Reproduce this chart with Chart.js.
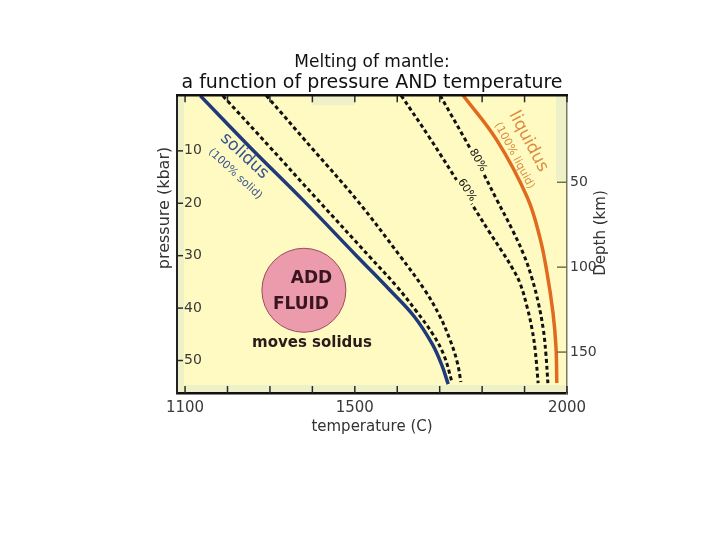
<!DOCTYPE html>
<html>
<head>
<meta charset="utf-8">
<title>Melting of mantle</title>
<script src="https://cdn.jsdelivr.net/npm/chart.js@4.4.1/dist/chart.umd.min.js"></script>
<style>
  html, body { margin: 0; padding: 0; background: #fff; }
  #wrap { width: 720px; height: 540px; }
</style>
</head>
<body>
<div id="wrap"><canvas id="meltChart" width="720" height="540"></canvas></div>
<script>
/* ===== Melting of mantle: pressure vs temperature ===== */

// curves: temperature (C) and pressure (kbar)
const solidusT  = [1136, 1253, 1378, 1505, 1583, 1640, 1682, 1705, 1720];
const solidusP  = [-0.5, 9.3, 19.4, 30.1, 36.6, 41.6, 46.8, 50.9, 54.5];

const dashAT    = [1189, 1300, 1412, 1536, 1598, 1645, 1684, 1710, 1729];
const dashAP    = [-0.5, 9.3, 19.3, 30.3, 35.8, 40.6, 45.0, 49.0, 54.1];

const dashBT    = [1291, 1400, 1505, 1606, 1665, 1700, 1724, 1741, 1750];
const dashBP    = [-0.6, 9.6, 19.4, 30.0, 36.6, 41.5, 46.0, 50.2, 54.1];

const melt60T   = [1609, 1677, 1755, 1818, 1847, 1870, 1889, 1906, 1918, 1925, 1932];
const melt60P   = [-0.6, 7.6, 17.5, 25.6, 29.2, 32.2, 35.2, 39.8, 44.2, 48.0, 54.3];

const melt80T   = [1701, 1783, 1835, 1872, 1898, 1917, 1933, 1944, 1950, 1955];
const melt80P   = [-0.6, 11.2, 19.4, 25.2, 29.8, 34.2, 39.2, 44.0, 48.5, 54.3];

const liquidusT = [1755, 1835, 1906, 1936, 1953, 1967, 1974, 1976];
const liquidusP = [-0.6, 8.0, 18.8, 26.5, 33.3, 40.9, 47.4, 54.3];

// axes
const tempTicks     = [1100, 1200, 1300, 1400, 1500, 1600, 1700, 1800, 1900, 2000];
const tempLabels    = [1100, 1500, 2000];
const pressureTicks = [10, 20, 30, 40, 50];
const depthTicks    = [50, 100, 150];

const pts = (T, P) => T.map((t, i) => ({ x: t, y: P[i] }));

const PLOT_BG = '#fefac2';
const FONT = "'DejaVu Sans', sans-serif";

function rotText(ctx, txt, x, y, deg, font, color, bg) {
  ctx.save();
  ctx.translate(x, y);
  ctx.rotate(deg * Math.PI / 180);
  ctx.font = font;
  ctx.textAlign = 'center';
  ctx.textBaseline = 'middle';
  if (bg) {
    const w = ctx.measureText(txt).width;
    ctx.fillStyle = bg;
    ctx.fillRect(-w / 2 - 2, -6, w + 4, 12);
  }
  ctx.fillStyle = color;
  ctx.fillText(txt, 0, 0);
  ctx.restore();
}

const framePlugin = {
  id: 'frame',
  beforeDraw(chart) {
    const { ctx, chartArea: a, scales: { x } } = chart;
    ctx.save();
    ctx.fillStyle = PLOT_BG;
    ctx.fillRect(a.left, a.top, a.width, a.height);
    ctx.fillStyle = '#eef1c8';
    ctx.fillRect(a.left, a.top, 7, a.height);
    ctx.fillRect(a.left, a.bottom - 8, a.width, 8);
    ctx.fillRect(x.getPixelForValue(1400), a.top, x.getPixelForValue(1500) - x.getPixelForValue(1400), 10);
    ctx.fillRect(a.right - 11, a.top, 11, 85);
    ctx.restore();
  },
  afterDatasetsDraw(chart) {
    const { ctx, scales: { x, y } } = chart;
    const X = v => x.getPixelForValue(v), Y = v => y.getPixelForValue(v);

    // ADD FLUID bubble
    ctx.save();
    ctx.beginPath();
    ctx.arc(X(1380), Y(36.6), 42, 0, Math.PI * 2);
    ctx.fillStyle = '#ec9bac';
    ctx.fill();
    ctx.lineWidth = 1;
    ctx.strokeStyle = '#9c4a5a';
    ctx.stroke();
    ctx.restore();
    rotText(ctx, 'ADD', X(1398), Y(34.3), 0, `bold 17px ${FONT}`, '#3a1520');
    rotText(ctx, 'FLUID', X(1373), Y(39.4), 0, `bold 17px ${FONT}`, '#3a1520');
    rotText(ctx, 'moves solidus', X(1399), Y(46.7), 0, `bold 15px ${FONT}`, '#2a1a1a');

    // curve labels
    rotText(ctx, 'solidus', X(1240), Y(11.0), 43, `17px ${FONT}`, '#36548f');
    rotText(ctx, '(100% solid)', X(1218), Y(14.4), 43, `11px ${FONT}`, '#36548f');
    rotText(ctx, 'liquidus', X(1909), Y(8.2), 62, `17px ${FONT}`, '#dc8c3e');
    rotText(ctx, '(100% liquid)', X(1876), Y(10.9), 62, `11px ${FONT}`, '#dc8c3e');
    rotText(ctx, '80%', X(1790), Y(11.8), 60, `11px ${FONT}`, '#111', PLOT_BG);
    rotText(ctx, '60%', X(1764), Y(17.5), 57, `11px ${FONT}`, '#111', PLOT_BG);
  },
  afterDraw(chart) {
    const { ctx, chartArea: a, scales: { x, y, y2 } } = chart;
    ctx.save();
    ctx.strokeStyle = '#2a2a2a';
    ctx.lineWidth = 1.5;
    const line = (x1, y1, x2, y2_) => { ctx.beginPath(); ctx.moveTo(x1, y1); ctx.lineTo(x2, y2_); ctx.stroke(); };
    tempTicks.forEach(v => {
      const px = x.getPixelForValue(v);
      line(px, a.bottom, px, a.bottom - 7);
      line(px, a.top, px, a.top + 7);
    });
    pressureTicks.forEach(v => {
      const py = y.getPixelForValue(v);
      line(a.left, py, a.left + 6, py);
    });
    ctx.strokeStyle = '#6f6f55';
    depthTicks.forEach(v => {
      const py = y2.getPixelForValue(v);
      line(a.right, py, a.right - 10, py);
    });
    // top edge of the frame
    ctx.strokeStyle = '#111';
    ctx.lineWidth = 2.5;
    line(a.left - 1, a.top, a.right + 1, a.top);
    ctx.restore();

    // vertical axis titles (both read bottom to top)
    rotText(ctx, 'pressure (kbar)', 165, 208, -90, `16px ${FONT}`, '#333');
    rotText(ctx, 'Depth (km)', 601, 233, -90, `15px ${FONT}`, '#333');
  }
};

const solidLine = (label, T, P, color) => ({
  label, data: pts(T, P), showLine: true, borderColor: color,
  borderWidth: 3.5, pointRadius: 0, tension: 0.4
});
const dashLine = (label, T, P) => ({
  label, data: pts(T, P), showLine: true, borderColor: '#111',
  borderWidth: 3, borderDash: [4, 3], pointRadius: 0, tension: 0.4
});

new Chart(document.getElementById('meltChart'), {
  type: 'scatter',
  data: {
    datasets: [
      solidLine('solidus', solidusT, solidusP, '#1f3a7a'),
      dashLine('dashed A', dashAT, dashAP),
      dashLine('dashed B', dashBT, dashBP),
      dashLine('60%', melt60T, melt60P),
      dashLine('80%', melt80T, melt80P),
      solidLine('liquidus', liquidusT, liquidusP, '#e06b1f')
    ]
  },
  options: {
    responsive: false,
    animation: false,
    events: [],
    layout: { padding: { top: 50, left: 152, right: 106, bottom: 100 } },
    plugins: {
      legend: { display: false },
      tooltip: { enabled: false },
      title: {
        display: true,
        fullSize: false,
        text: 'Melting of mantle:',
        color: '#111',
        font: { family: FONT, size: 17, weight: 'normal', lineHeight: 1.2 },
        padding: { top: 2, bottom: 0 }
      },
      subtitle: {
        display: true,
        fullSize: false,
        text: 'a function of pressure AND temperature',
        color: '#111',
        font: { family: FONT, size: 19, weight: 'normal', lineHeight: 1.1 },
        padding: { top: 0, bottom: 2 }
      }
    },
    scales: {
      x: {
        type: 'linear', position: 'bottom', min: 1081, max: 2000,
        afterBuildTicks: s => { s.ticks = tempTicks.map(v => ({ value: v })); },
        afterFit: s => { s.height = 47; },
        grid: { display: false, drawTicks: false },
        border: { color: '#111', width: 2.5 },
        ticks: {
          autoSkip: false, maxRotation: 0, padding: 6, color: '#3a3a3a',
          font: { family: FONT, size: 15 },
          callback: v => tempLabels.includes(v) ? String(v) : ''
        },
        title: {
          display: true, text: 'temperature (C)', color: '#333',
          font: { family: FONT, size: 15, lineHeight: 1.2 }, padding: { top: 4, bottom: 4 }
        }
      },
      y: {
        type: 'linear', position: 'left', reverse: true, min: -0.6, max: 56.2,
        afterBuildTicks: s => { s.ticks = pressureTicks.map(v => ({ value: v })); },
        afterFit: s => { s.width = 25; },
        grid: { display: false, drawTicks: false },
        border: { color: '#222', width: 2 },
        ticks: { mirror: true, padding: 7, color: '#3a3a3a', font: { family: FONT, size: 14 } }
      },
      y2: {
        type: 'linear', position: 'right', reverse: true, min: -1.2, max: 174.1,
        afterBuildTicks: s => { s.ticks = depthTicks.map(v => ({ value: v })); },
        afterFit: s => { s.width = 47; },
        grid: { display: false, drawTicks: false },
        border: { color: '#7a7a5e', width: 1.5 },
        ticks: { padding: 3, color: '#3a3a3a', font: { family: FONT, size: 14 } }
      }
    }
  },
  plugins: [framePlugin]
});
</script>
</body>
</html>
